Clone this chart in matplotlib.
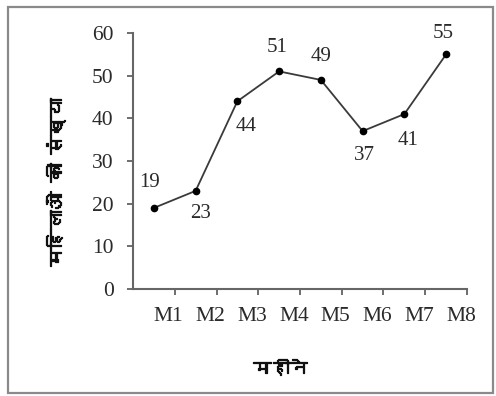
import matplotlib
matplotlib.use("Agg")
import matplotlib.pyplot as plt
import matplotlib.patheffects as pe
from matplotlib import font_manager
from matplotlib.patches import Rectangle
from matplotlib.transforms import ScaledTranslation
from fontTools.ttLib import TTFont

# data
months = ["M1", "M2", "M3", "M4", "M5", "M6", "M7", "M8"]
women = [19, 23, 44, 51, 49, 37, 41, 55]
y_ticks = [0, 10, 20, 30, 40, 50, 60]

# label offsets in pixels (dx, dy) from each point
label_offsets = [(-4, 25), (5, -23), (9, -25), (-2, 24), (0, 23), (2, -24), (4, -26), (-3, 21)]


def find_devanagari_font():
    # look for any installed font that has Devanagari glyphs
    for f in font_manager.fontManager.ttflist:
        try:
            tt = TTFont(f.fname, fontNumber=0, lazy=True)
            cmap = tt.getBestCmap()
            if cmap and 0x092E in cmap and 0x0940 in cmap:
                return f.name
        except Exception:
            continue
    return None


deva = find_devanagari_font()
hindi_family = [deva, "DejaVu Sans"] if deva else ["DejaVu Sans"]
plt.rcParams['font.family'] = ['Liberation Serif', 'DejaVu Serif']

fig = plt.figure(figsize=(4.96, 3.96), dpi=100)
ax = fig.add_axes([133/496, 1 - 289/396, 334/496, 256/396])

# outer frame of the picture
fig.patches.append(Rectangle((8/496, 3/396), 485/496, 386/396, transform=fig.transFigure,
                             fill=False, edgecolor="#8a8a8a", linewidth=1.6))

x = [i + 0.5 for i in range(len(months))]
ax.plot(x, women, color="#3a3a3a", linewidth=1.3, marker="o", markersize=4.5,
        markerfacecolor="black", markeredgecolor="black")

for xi, v, (dx, dy) in zip(x, women, label_offsets):
    ax.annotate(str(v), xy=(xi, v), xytext=(dx, dy), textcoords="offset pixels",
                ha="center", va="center", fontsize=15, color="#2a2a2a")

ax.set_xlim(0, len(months))
ax.set_ylim(0, 60)
ax.set_yticks(y_ticks)
ax.set_xticks(range(1, len(months) + 1))
ax.set_xticklabels(months)
ax.tick_params(axis="both", direction="out", length=4, width=1.2, color="#555555",
               labelsize=15.5, labelcolor="#2a2a2a")
ax.tick_params(axis="x", pad=9)
ax.tick_params(axis="y", pad=10)
# month labels sit a little left of the tick marks
shift = ScaledTranslation(-6/100, 0, fig.dpi_scale_trans)
for lbl in ax.get_xticklabels():
    lbl.set_transform(lbl.get_transform() + shift)

for s in ["top", "right"]:
    ax.spines[s].set_visible(False)
for s in ["left", "bottom"]:
    ax.spines[s].set_color("#666666")
    ax.spines[s].set_linewidth(1.5)

# hindi axis titles, stroked a little to look bold
bold = [pe.withStroke(linewidth=0.9, foreground="#111111")]
ax.set_xlabel("महीने", family=hindi_family, fontsize=13, fontweight="bold",
              color="#111111", path_effects=bold)
ax.xaxis.set_label_coords(147/334, -79/256)
ax.set_ylabel("महिलाओं की संख्या", family=hindi_family, fontsize=13.5, fontweight="bold",
              color="#111111", path_effects=bold)
ax.yaxis.set_label_coords(-78/334, 107/256)
ax.xaxis.label.set_verticalalignment("center")
ax.yaxis.label.set_verticalalignment("center")

fig.savefig("out.png", dpi=100)
